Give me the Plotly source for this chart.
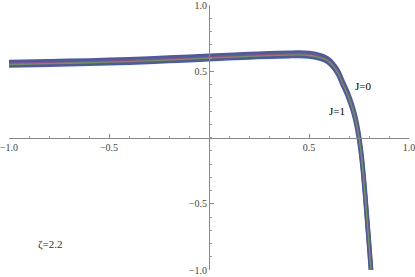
import plotly.graph_objects as go

# sample positions
x_vals = [-1.0, -0.8, -0.6, -0.4, -0.2, 0.0, 0.2, 0.3, 0.4, 0.45, 0.5, 0.55, 0.58, 0.6, 0.62,
          0.645, 0.67, 0.695, 0.715, 0.73, 0.74, 0.75, 0.76, 0.77, 0.78, 0.79, 0.80, 0.81, 0.815]

# outer (J=0, upper) and inner (J=1, lower) curves
y_J0 = [0.569, 0.575, 0.582, 0.591, 0.603, 0.617, 0.630, 0.636, 0.640, 0.641, 0.637, 0.623, 0.607,
        0.588, 0.558, 0.503, 0.418, 0.333, 0.248, 0.168, 0.098, 0.013, -0.097, -0.237, -0.407,
        -0.597, -0.787, -0.987, -1.087]
y_J1 = [0.543, 0.549, 0.556, 0.565, 0.577, 0.591, 0.604, 0.610, 0.614, 0.615, 0.611, 0.597, 0.581,
        0.562, 0.532, 0.477, 0.392, 0.307, 0.222, 0.142, 0.072, -0.013, -0.123, -0.263, -0.433,
        -0.623, -0.813, -1.013, -1.113]
# thin curves inside the band
y_mag = [0.561, 0.567, 0.574, 0.583, 0.595, 0.609, 0.622, 0.628, 0.632, 0.633, 0.629, 0.615, 0.599,
         0.580, 0.550, 0.495, 0.410, 0.325, 0.240, 0.160, 0.090, 0.005, -0.105, -0.245, -0.415,
         -0.605, -0.795, -0.995, -1.095]
y_red = [0.556, 0.562, 0.569, 0.578, 0.590, 0.604, 0.617, 0.623, 0.627, 0.628, 0.624, 0.610, 0.594,
         0.575, 0.545, 0.490, 0.405, 0.320, 0.235, 0.155, 0.085, 0.000, -0.110, -0.250, -0.420,
         -0.610, -0.800, -1.000, -1.100]
y_grn = [0.551, 0.557, 0.564, 0.573, 0.585, 0.599, 0.612, 0.618, 0.622, 0.623, 0.619, 0.605, 0.589,
         0.570, 0.540, 0.485, 0.400, 0.315, 0.230, 0.150, 0.080, -0.005, -0.115, -0.255, -0.425,
         -0.615, -0.805, -1.005, -1.105]

tick_vals = [-1.0, -0.5, 0.5, 1.0]
tick_text = ["\u22121.0", "\u22120.5", "0.5", "1.0"]

SERIF = "Times New Roman, Liberation Serif, serif"

fig = go.Figure()
for ys, col, w in [(y_J1, "#4a5aa8", 4.5), (y_J0, "#4a5aa8", 4.5),
                   (y_mag, "#8a4f96", 1.3), (y_red, "#a0524e", 1.3), (y_grn, "#6f9a4c", 1.3)]:
    fig.add_trace(go.Scatter(x=x_vals, y=ys, mode="lines",
                             line=dict(color=col, width=w, shape="spline", smoothing=0.8),
                             hoverinfo="skip", showlegend=False))

axis_common = dict(
    range=[-1, 1], showgrid=False, zeroline=False, showline=True,
    linecolor="#888888", linewidth=1, ticks="inside", ticklen=4, tickcolor="#888888",
    tickmode="array", tickvals=tick_vals, ticktext=tick_text,
    tickfont=dict(family=SERIF, size=10, color="#444444"),
    minor=dict(ticks="inside", ticklen=2, tickcolor="#999999", dtick=0.1, tick0=0, showgrid=False),
    anchor="free", position=0.5, fixedrange=True,
    automargin=False, ticklabeloverflow="allow",
)
fig.update_layout(
    width=415, height=277,
    margin=dict(l=9, r=6, t=5, b=7),
    paper_bgcolor="white", plot_bgcolor="white",
    xaxis=dict(**axis_common, side="bottom"),
    yaxis=dict(**axis_common, side="left"),
    annotations=[
        dict(x=0.77, y=0.39, text="J=0", showarrow=False,
             font=dict(family=SERIF, size=11, color="black")),
        dict(x=0.64, y=0.20, text="J=1", showarrow=False,
             font=dict(family=SERIF, size=11, color="black")),
        dict(x=-0.795, y=-0.805, text="\u03b6=2.2", showarrow=False,
             font=dict(family=SERIF, size=11, color="#333333")),
    ],
)
fig.write_html("out.html", config={"displayModeBar": False},
               post_script="document.body.style.margin='0';document.body.style.overflow='hidden';")
